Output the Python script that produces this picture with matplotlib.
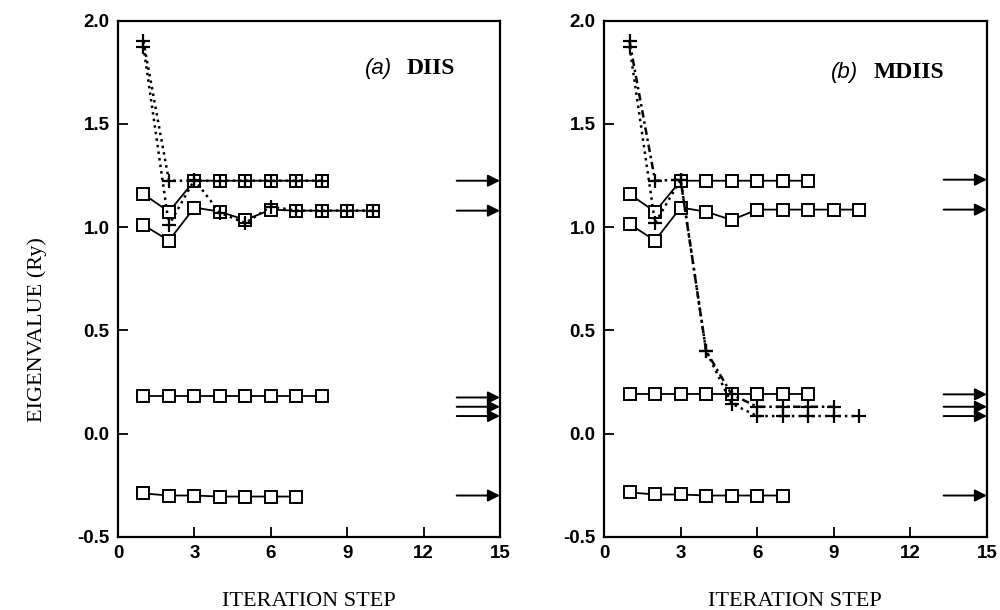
import numpy as np
import matplotlib
matplotlib.use("Agg")
import matplotlib.pyplot as plt

# iteration steps
steps_8 = [1, 2, 3, 4, 5, 6, 7, 8]
steps_10 = [1, 2, 3, 4, 5, 6, 7, 8, 9, 10]
steps_7 = [1, 2, 3, 4, 5, 6, 7]
steps_9 = [1, 2, 3, 4, 5, 6, 7, 8, 9]

# (a) DIIS - square series (solid)
a_hi = [1.16, 1.075, 1.225, 1.225, 1.225, 1.225, 1.225, 1.225]
a_lo = [1.01, 0.935, 1.095, 1.075, 1.035, 1.085, 1.08, 1.08, 1.08, 1.08]
a_s1 = [0.18, 0.18, 0.18, 0.18, 0.18, 0.18, 0.18, 0.18]
a_s0 = [-0.29, -0.30, -0.30, -0.305, -0.305, -0.305, -0.305]
# (a) DIIS - plus series (dotted)
a_plus1 = [1.90, 1.225, 1.225, 1.225, 1.225, 1.225, 1.225, 1.225]
a_plus2 = [1.875, 1.01, 1.23, 1.07, 1.02, 1.10, 1.08, 1.08, 1.08, 1.08]
a_exact = [1.225, 1.08, 0.175, 0.13, 0.085, -0.30]

# (b) MDIIS
b_hi = [1.16, 1.075, 1.225, 1.225, 1.225, 1.225, 1.225, 1.225]
b_lo = [1.015, 0.935, 1.095, 1.075, 1.035, 1.085, 1.085, 1.085, 1.085, 1.085]
b_s1 = [0.19, 0.19, 0.19, 0.19, 0.19, 0.19, 0.19, 0.19]
b_s0 = [-0.285, -0.295, -0.295, -0.30, -0.30, -0.30, -0.30]
b_plus1 = [1.90, 1.225, 1.23, 0.40, 0.19, 0.13, 0.13, 0.13, 0.13]
b_plus2 = [1.875, 1.02, 1.23, 0.40, 0.145, 0.085, 0.085, 0.085, 0.085, 0.085]
b_exact = [1.23, 1.085, 0.19, 0.13, 0.085, -0.30]

xticks = [0, 3, 6, 9, 12, 15]
yticks = [-0.5, 0.0, 0.5, 1.0, 1.5, 2.0]

sq = dict(marker='s', ms=8, mfc='white', mec='black', mew=1.4,
          color='black', lw=1.3, zorder=3)
pl = dict(marker='+', ms=10, mew=1.6, color='black', lw=1.8, zorder=4)


def draw_panel(ax, squares, pluses, exact, tag, name):
    for xs, ys in squares:
        ax.plot(xs, ys, '-', **sq)
    for (xs, ys), ls in pluses:
        ax.plot(xs, ys, linestyle=ls, **pl)
    for e in exact:
        ax.annotate('', xy=(15, e), xytext=(13.3, e),
                    arrowprops=dict(arrowstyle='-|>', color='black', lw=1.4,
                                    mutation_scale=18, shrinkA=0, shrinkB=0))
    ax.set_xlim(0, 15)
    ax.set_ylim(-0.5, 2.0)
    ax.set_xticks(xticks)
    ax.set_yticks(yticks)
    ax.set_yticklabels(['%.1f' % v for v in yticks])
    ax.tick_params(direction='in', length=7, width=1.3, labelsize=13.5, pad=6)
    for lab in ax.get_xticklabels() + ax.get_yticklabels():
        lab.set_fontweight('bold')
        lab.set_family('Liberation Sans')
    for sp in ax.spines.values():
        sp.set_linewidth(1.6)
    ax.text(tag[0], tag[1], name[0], fontsize=16, style='italic',
            family='Liberation Sans', va='center')
    ax.text(tag[0] + tag[2], tag[1], name[1], fontsize=17, weight='bold',
            family='Liberation Serif', va='center')


fig = plt.figure(figsize=(10, 6.1), dpi=100)
ax1 = fig.add_axes([0.118, 0.12, 0.382, 0.846])
ax2 = fig.add_axes([0.604, 0.12, 0.383, 0.846])

draw_panel(ax1,
           [(steps_8, a_hi), (steps_10, a_lo), (steps_8, a_s1), (steps_7, a_s0)],
           [((steps_8, a_plus1), ':'), ((steps_10, a_plus2), ':')],
           a_exact, (9.7, 1.77, 1.65), ('(a)', 'DIIS'))
draw_panel(ax2,
           [(steps_8, b_hi), (steps_10, b_lo), (steps_8, b_s1), (steps_7, b_s0)],
           [((steps_9, b_plus1), (0, (3, 1.5, 1, 1.5))), ((steps_10, b_plus2), ':')],
           b_exact, (8.9, 1.75, 1.65), ('(b)', 'MDIIS'))

fig.text(0.309, 0.014, 'ITERATION STEP', family='Liberation Serif', fontsize=16,
         ha='center', va='center')
fig.text(0.795, 0.014, 'ITERATION STEP', family='Liberation Serif', fontsize=16,
         ha='center', va='center')
fig.text(0.037, 0.46, 'EIGENVALUE (Ry)', family='Liberation Serif', fontsize=16,
         ha='center', va='center', rotation=90)

fig.savefig('out.png', dpi=100)
